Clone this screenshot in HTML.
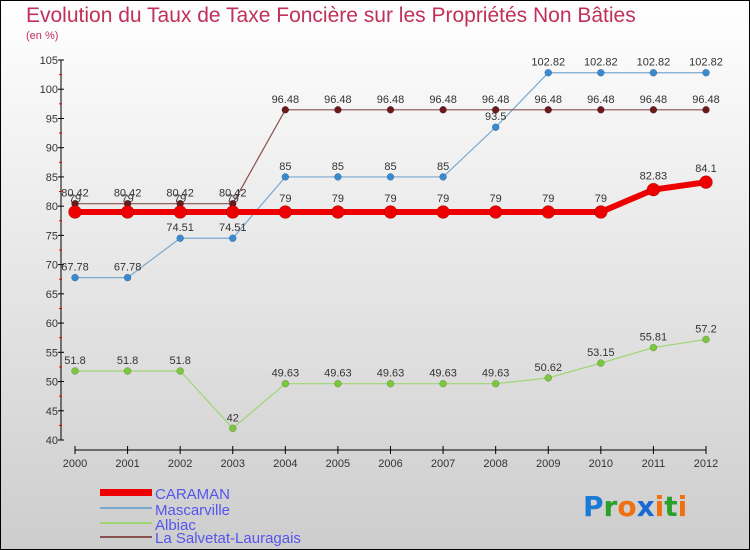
<!DOCTYPE html>
<html><head><meta charset="utf-8"><style>
body{margin:0;width:750px;height:550px;overflow:hidden}
svg{display:block;font-family:"Liberation Sans",sans-serif}
</style></head><body>
<svg id="chart" width="750" height="550">
<defs><linearGradient id="bg" x1="0" y1="0" x2="0" y2="1"><stop offset="0" stop-color="#ffffff"/><stop offset="1" stop-color="#cdcdcd"/></linearGradient></defs>
<rect x="0.5" y="0.5" width="749" height="549" fill="url(#bg)" stroke="#000"/>
<text x="26" y="22" font-size="21" fill="#c0305a">Evolution du Taux de Taxe Foncière sur les Propriétés Non Bâties</text>
<text x="26" y="39" font-size="11" fill="#c0305a">(en %)</text>
<g id="axes"></g><g id="series"></g>
<g>
<rect x="100" y="489" width="52" height="7" fill="#e00"/>
<text x="155" y="499" font-size="15" fill="#5555ee">CARAMAN</text>
<line x1="100" x2="152" y1="508" y2="508" stroke="#7aa8d0" stroke-width="2"/>
<text x="155" y="515" font-size="15" fill="#5555ee">Mascarville</text>
<line x1="100" x2="152" y1="523" y2="523" stroke="#9ed672" stroke-width="2"/>
<text x="155" y="530" font-size="15" fill="#5555ee">Albiac</text>
<line x1="100" x2="152" y1="537" y2="537" stroke="#8a5050" stroke-width="2"/>
<text x="155" y="543" font-size="15" fill="#5555ee">La Salvetat-Lauragais</text>
</g>
<g font-size="28" font-weight="bold" font-family="'DejaVu Sans',sans-serif">
<text x="583" y="516"><tspan fill="#1a7ad4">P</tspan><tspan fill="#2aa02a">r</tspan><tspan fill="#f07010">o</tspan><tspan fill="#1a6ad4">x</tspan><tspan fill="#f07010">i</tspan><tspan fill="#2aa02a">t</tspan><tspan fill="#f07010">i</tspan></text>
</g>
</svg>
<script>
const years=[2000,2001,2002,2003,2004,2005,2006,2007,2008,2009,2010,2011,2012];
const caraman=[79,79,79,79,79,79,79,79,79,79,79,82.83,84.1];
const mascarville=[67.78,67.78,74.51,74.51,85,85,85,85,93.5,102.82,102.82,102.82,102.82];
const albiac=[51.8,51.8,51.8,42,49.63,49.63,49.63,49.63,49.63,50.62,53.15,55.81,57.2];
const salvetat=[80.42,80.42,80.42,80.42,96.48,96.48,96.48,96.48,96.48,96.48,96.48,96.48,96.48];
const yTicks=[40,45,50,55,60,65,70,75,80,85,90,95,100,105];
const NS="http://www.w3.org/2000/svg";
const x=i=>75+i*(706-75)/(years.length-1);
const y=v=>60+(105-v)*(380/65);
function mk(t,a,p){const e=document.createElementNS(NS,t);for(const k in a)e.setAttribute(k,a[k]);p.appendChild(e);return e;}
const ax=document.getElementById('axes');
let e=mk('line',{x1:61,x2:61,y1:60,y2:440,stroke:'#000'},ax);


e=mk('line',{x1:75,x2:706,y1:450,y2:450,stroke:'#000'},ax);


yTicks.forEach((v,i)=>{
 mk('line',{x1:58,x2:64,y1:y(v),y2:y(v),stroke:'#000'},ax);
 if(i<yTicks.length-1)mk('line',{x1:59,x2:62,y1:y(v+2.5),y2:y(v+2.5),stroke:'#e00'},ax);
 const t=mk('text',{x:58,y:y(v)+4,'font-size':11,'text-anchor':'end',fill:'#333'},ax);t.textContent=v;
 
 
});
years.forEach((yr,i)=>{
 mk('line',{x1:x(i),x2:x(i),y1:446,y2:454,stroke:'#000'},ax);
 const t=mk('text',{x:x(i),y:467,'font-size':11,'text-anchor':'middle',fill:'#333'},ax);t.textContent=yr;
 
 
});
const sg=document.getElementById('series');
function series(vals,name,line,dot,w,r,dy){
 const g=mk('g',{},sg);
 
 
 const p=mk('polyline',{points:vals.map((v,i)=>x(i)+','+y(v)).join(' '),fill:'none',stroke:line,'stroke-width':w},g);
 
 
 vals.forEach((v,i)=>{
  const c=mk('circle',{cx:x(i),cy:y(v),r:r,fill:dot,stroke:'rgba(0,0,0,0.3)','stroke-width':0.5},g);
  
  
  const t=mk('text',{x:x(i),y:y(v)-dy,'font-size':11,'text-anchor':'middle',fill:'#333'},g);t.textContent=v;
  
  
 });
}
series(albiac,'albiac','#9ed672','#7cc83c',1.2,3.5,7);
series(mascarville,'mascarville','#7aa8d0','#3a8ad0',1.2,3.5,7);
series(salvetat,'la-salvetat','#8a5050','#6a1a1a',1.2,3.5,7);
series(caraman,'caraman','#ee0000','#ee0000',6,6.5,10);
</script>
</body></html>
